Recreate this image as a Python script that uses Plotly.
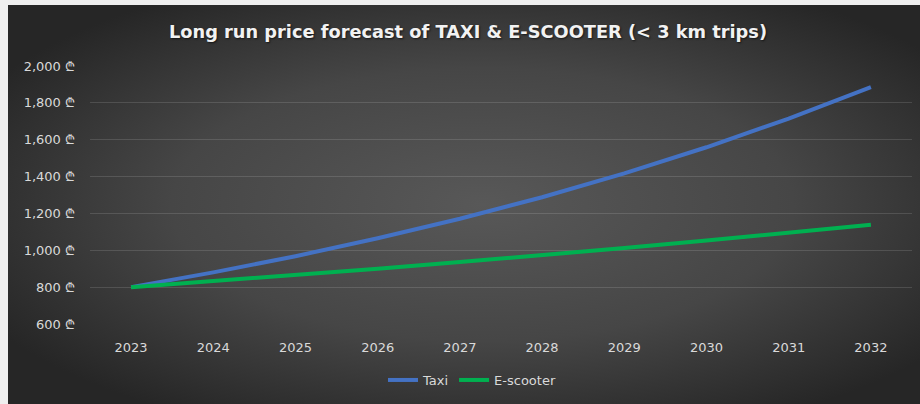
import base64
import plotly.graph_objects as go

# Forecast data (price per trip, GEL)
years = ["2023", "2024", "2025", "2026", "2027", "2028", "2029", "2030", "2031", "2032"]
taxi = [800, 880, 968, 1065, 1171, 1288, 1417, 1559, 1715, 1886]
e_scooter = [800, 832, 865, 900, 936, 973, 1012, 1053, 1095, 1139]
y_ticks = [600, 800, 1000, 1200, 1400, 1600, 1800, 2000]
y_tick_labels = ["600 ₾", "800 ₾", "1,000 ₾", "1,200 ₾", "1,400 ₾", "1,600 ₾", "1,800 ₾", "2,000 ₾"]

W, H = 920, 404
L, R, T, B = 90, 8, 66, 80
pw, ph = W - L - R, H - T - B
FONT = "DejaVu Sans, Noto Sans, sans-serif"

# dark radial-gradient chart background
svg = (
    '<svg xmlns="http://www.w3.org/2000/svg" width="912" height="399" viewBox="0 0 912 399" '
    'preserveAspectRatio="none">'
    '<defs><radialGradient id="g" cx="52%" cy="50%" r="62%" fx="52%" fy="50%">'
    '<stop offset="0%" stop-color="#585858"/>'
    '<stop offset="55%" stop-color="#464646"/>'
    '<stop offset="100%" stop-color="#262626"/>'
    '</radialGradient></defs>'
    '<rect width="912" height="399" fill="url(#g)"/></svg>'
)
bg_src = "data:image/svg+xml;base64," + base64.b64encode(svg.encode()).decode()

fig = go.Figure()
fig.add_trace(go.Scatter(
    x=years, y=taxi, name="Taxi", mode="lines",
    line=dict(color="#4472C4", width=4),
))
fig.add_trace(go.Scatter(
    x=years, y=e_scooter, name="E-scooter", mode="lines",
    line=dict(color="#00B050", width=4),
))

fig.update_layout(
    width=W, height=H,
    margin=dict(l=L, r=R, t=T, b=B),
    paper_bgcolor="#efefef",
    plot_bgcolor="rgba(0,0,0,0)",
    font=dict(family=FONT, color="#d9d9d9", size=13),
    title=dict(
        text="<b>Long run price forecast of TAXI &amp; E-SCOOTER (&lt; 3 km trips)</b>",
        font=dict(family=FONT, size=17.8, color="#f2f2f2",
                  shadow="1px 1px 2px rgba(0,0,0,0.6)"),
        x=468 / W, xref="container", xanchor="center",
        y=1 - 32 / H, yref="container", yanchor="middle",
    ),
    xaxis=dict(
        type="category", range=[-0.5, 9.5],
        showgrid=False, zeroline=False, showline=False, ticks="",
        ticklabelstandoff=14,
        tickfont=dict(family=FONT, size=13, color="#d9d9d9"),
    ),
    yaxis=dict(
        range=[600, 2000], tickvals=y_ticks, ticktext=y_tick_labels,
        showgrid=True, gridcolor="rgba(255,255,255,0.13)", gridwidth=1,
        zeroline=False, showline=False, ticks="",
        ticklabelstandoff=14,
        tickfont=dict(family=FONT, size=13, color="#d9d9d9"),
    ),
    legend=dict(
        orientation="h", x=(472 - L) / pw, xanchor="center",
        y=(ph - (380 - T)) / ph, yanchor="middle",
        font=dict(family=FONT, size=13, color="#d9d9d9"),
        bgcolor="rgba(0,0,0,0)",
    ),
    images=[dict(
        source=bg_src, xref="paper", yref="paper",
        x=(8 - L) / pw, y=(ph + T - 5) / ph,
        sizex=912 / pw, sizey=399 / ph,
        xanchor="left", yanchor="top", sizing="stretch", layer="below",
    )],
)

fig.write_html("out.html")
